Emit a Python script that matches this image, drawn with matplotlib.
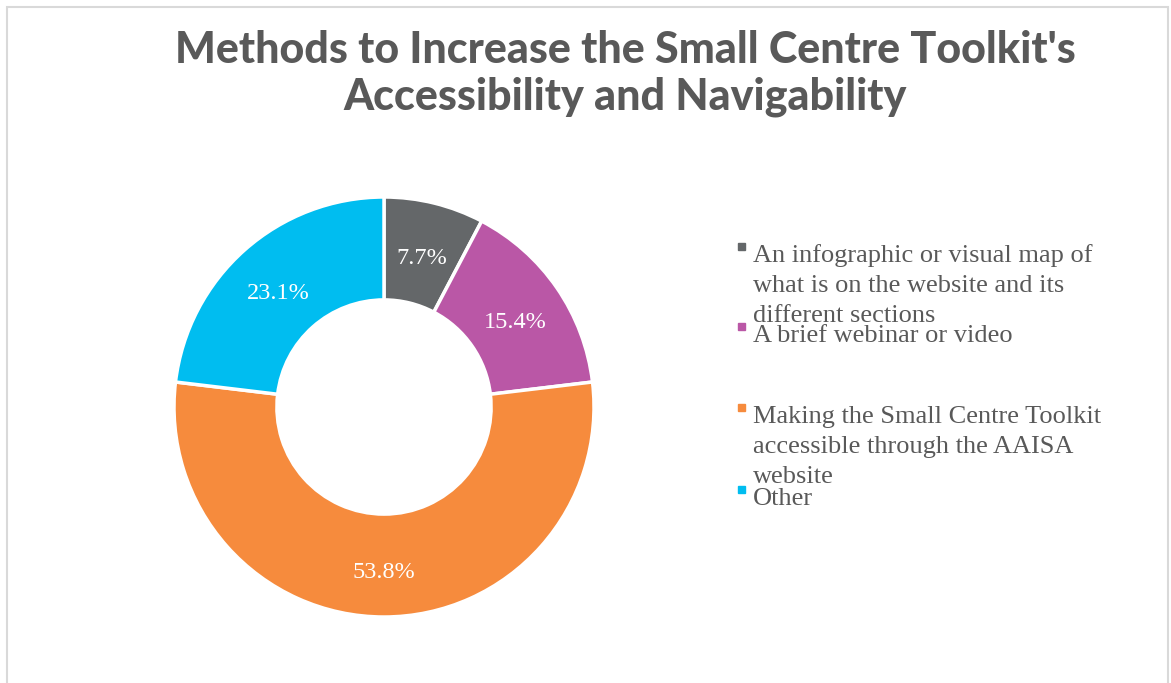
import matplotlib.pyplot as plt
from matplotlib.patches import Rectangle
from matplotlib.transforms import offset_copy

labels = ['An infographic or visual map of\nwhat is on the website and its\ndifferent sections',
          'A brief webinar or video',
          'Making the Small Centre Toolkit\naccessible through the AAISA\nwebsite',
          'Other']
values = [7.7, 15.4, 53.8, 23.1]
colors = ['#646769', '#BA57A6', '#F68B3D', '#00BDF0']

W, H = 1171, 683
fig = plt.figure(figsize=(W / 100, H / 100), dpi=100)

# light frame around the chart area
fig.patches.append(Rectangle((7 / W, -0.02), (1168 - 7) / W, (H - 7) / H + 0.02,
                             transform=fig.transFigure, fill=False,
                             edgecolor='#d9d9d9', linewidth=1.5))

title_lines = ["Methods to Increase the Small Centre Toolkit's",
               "Accessibility and Navigability"]
for i, t in enumerate(title_lines):
    fig.text(625 / W, 1 - (50 + 47 * i) / H, t, ha='center', va='center',
             fontsize=31, fontweight='black', color='#595959', family='Lato')

# donut
cx, cy, r = 384, 407, 210
ax = fig.add_axes([(cx - r) / W, (H - cy - r) / H, 2 * r / W, 2 * r / H])
wedges, texts, autotexts = ax.pie(values, colors=colors, startangle=90, counterclock=False,
                                  radius=1, autopct='%.1f%%', pctdistance=0.76,
                                  wedgeprops=dict(width=0.49, edgecolor='white', linewidth=2.5),
                                  textprops=dict(color='white', fontsize=17.5,
                                                 family='Liberation Serif'))
ax.set_xlim(-1, 1)
ax.set_ylim(-1, 1)
ax.set_aspect('equal')
ax.axis('off')
# nudge the percentages down a little
for t in autotexts:
    t.set_transform(offset_copy(ax.transData, fig=fig, x=0, y=-6, units='dots'))

# legend drawn by hand so the wrapped lines overlap like the original
baselines = [262, 342, 423, 505]
for lab, col, yb in zip(labels, colors, baselines):
    fig.patches.append(Rectangle((738 / W, 1 - (yb - 12) / H), 7 / W, 7 / H,
                                 transform=fig.transFigure, color=col))
    for i, line in enumerate(lab.split('\n')):
        fig.text(753 / W, 1 - (yb + 30 * i) / H, line, ha='left', va='baseline',
                 fontsize=19, color='#595959', family='Liberation Serif')

fig.savefig('out.png', dpi=100)
